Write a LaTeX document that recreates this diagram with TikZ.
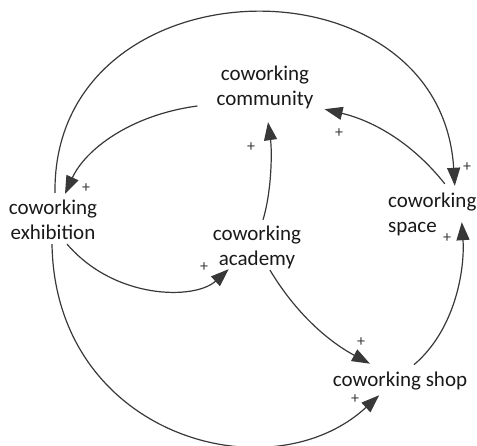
\documentclass[tikz,border=0pt]{standalone}
\usepackage{fontspec}
\setmainfont{Carlito}
\usetikzlibrary{arrows.meta}

\definecolor{linegray}{HTML}{383838}

\tikzset{
  factor/.style={inner sep=2pt, align=center, text=black!90, font=\fontsize{21}{25}\selectfont},
  sign/.style={inner sep=0pt, text=linegray, font=\fontsize{16}{16}\selectfont},
  link/.style={draw=linegray, line width=1.2pt, -{Triangle[length=18pt,width=13pt]}}
}

\begin{document}
\begin{tikzpicture} [x=1pt,y=1pt]

\useasboundingbox (0,0) rectangle (477,446);

\node [factor] (comm) at (265,358.5) {coworking\\community};
\node [factor] (exh) at (53,226) {coworking\\exhibition};
\node [factor] (acad) at (257,198.5) {coworking\\academy};
\node [factor, align=left, anchor=west] (space) at (386,232) {coworking\\space};
\node [factor] (shop) at (400,65) {coworking shop};

% links
\draw [link] ([shift={(-17,-18.5)}]comm.west) .. controls (130,331) and (85,296) .. ([shift={(12,4)}]exh.north);
\draw [link] ([shift={(14,-2)}]exh.south) .. controls (115,146) and (195,146) .. ([shift={(18,2)}]acad.south west);
\draw [link] ([shift={(6,4)}]acad.north) .. controls (272,256) and (272,296) .. ([shift={(3,-11)}]comm.south);
\draw [link] ([shift={(12.5,6.5)}]space.north) .. controls (410,306) and (370,326) .. ([shift={(9,2)}]comm.south east);
\draw [link] ([shift={(2,5)}]exh.north) .. controls (52,486) and (440,496) .. ([shift={(22.5,4.5)}]space.north);
\draw [link] ([shift={(-1,-2)}]exh.south) .. controls (55,10) and (270,-50) .. ([shift={(48.5,-3)}]shop.south west);
\draw [link] ([shift={(13,1)}]acad.south) .. controls (300,126) and (335,101) .. ([shift={(-30,6)}]shop.north);
\draw [link] ([shift={(14,5)}]shop.north) .. controls (455,116) and (465,176) .. ([shift={(29.5,15.5)}]space.south);

% polarities
\node [sign] (p1) at (86,258) {+};
\node [sign] (p2) at (204,179) {+};
\node [sign] (p3) at (251,299) {+};
\node [sign] (p4) at (339,313) {+};
\node [sign] (p5) at (467,279) {+};
\node [sign] (p6) at (447,208) {+};
\node [sign] (p7) at (361,104) {+};
\node [sign] (p8) at (355,47) {+};

\end{tikzpicture}
\end{document}
